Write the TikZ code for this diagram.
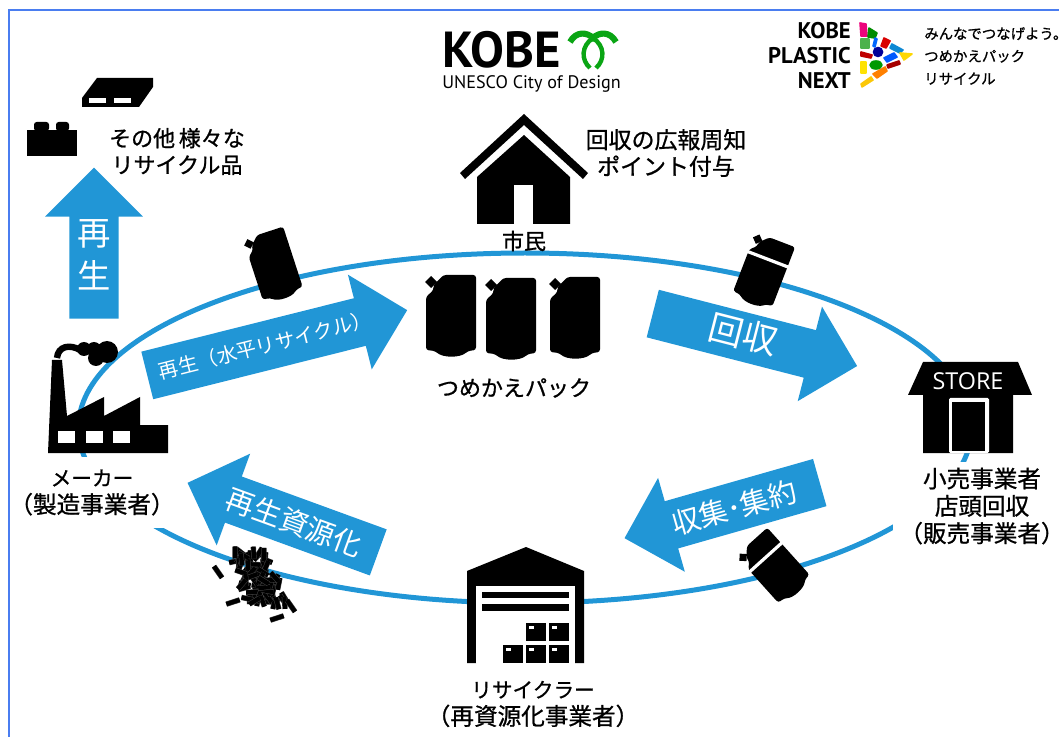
\documentclass[tikz,border=0pt]{standalone}
\usepackage{graphicx}
\usepackage{fontspec}
\usetikzlibrary{shapes}
\usetikzlibrary{shapes.arrows}
\usetikzlibrary{shapes.geometric}
\setmainfont{Noto Sans CJK JP}
\newfontfamily\labelfont[FakeBold=0.9]{Noto Sans CJK JP}
\newfontfamily\logofont{PT Sans}
\newfontfamily\storefont{Open Sans}
\definecolor{flowblue}{RGB}{33,150,214}
\definecolor{frameblue}{RGB}{74,125,240}
\definecolor{kobegreen}{RGB}{10,165,20}
\newcommand{\arrowtext}[1]{\raisebox{-.36em}{#1}}
\newcommand{\backtext}[1]{\raisebox{-.36em}{\rotatebox[origin=c]{180}{#1}}}
\newcommand{\firstline}[1]{{\fontsize{15.5}{20.5}\selectfont #1}}
\newcommand{\pouchshape}{
    \fill[rounded corners=2pt] (-7.5,-38) -- (25,-38) -- (25,37) -- (17,38)
      .. controls (9,45) and (-8,45) .. (-16,38) -- (-25,37) -- (-25,-16)
      -- (-17.5,-23) -- (-17.5,-28) -- cycle;
    \fill (-20,-37) -- (-14,-31) -- (-20,-25) -- (-26,-31) -- cycle;
}
\tikzset{
  x=0.75pt, y=-0.75pt,
  flowarrow/.style={single arrow, fill=flowblue, text=white, anchor=tail,
    inner xsep=0pt, inner ysep=0pt, single arrow head indent=0pt,
    single arrow head extend=18.2pt, minimum width=72.75pt,
    text height=18.2pt, text depth=18.2pt},
  namelabel/.style={font=\labelfont\fontsize{17.7}{20.5}\selectfont, align=center,
    fill=white, inner sep=0pt},
  freelabel/.style={font=\labelfont\fontsize{16.5}{20}\selectfont, align=center,
    inner sep=0pt},
  pellet/.style={draw=darkgray, line width=.4pt, double=black, double distance=3.2pt},
  logopiece/.style={fill=#1, draw=#1, line width=1.2pt, line join=round},
  pics/pouch/.style={code={\pouchshape}},
  pics/bandpouch/.style={code={
    \pouchshape
    \draw[white, line width=2.4pt] (-27,-13) -- (27,-13);
  }}
}

\begin{document}
\begin{tikzpicture}
    \useasboundingbox (0,0) rectangle (1059,737);

    \node[draw=flowblue, line width=3.75pt, ellipse, inner sep=0pt,
          minimum width=670pt, minimum height=262.5pt] (cycleloop) at (525,428) {};

    \node[namelabel, minimum width=97.5pt, minimum height=53pt] (maker) at (92,492.5)
      {\firstline{メーカー}\\（製造事業者）};
    \node[namelabel, minimum width=133pt, minimum height=66pt] (retailer) at (982,506)
      {小売事業者\\店頭回収\\（販売事業者）};
    \node[namelabel] (recycler) at (533,704) {\firstline{リサイクラー}\\（再資源化事業者）};
    \node[freelabel] (citizen) at (524,241) {市民};
    \node[freelabel] (refill) at (514,388) {つめかえパック};
    \node[freelabel] (products) at (177,151.5) {その他\,様々な\\リサイクル品};
    \node[freelabel, font=\labelfont\fontsize{17.2}{20}\selectfont] (publicity) at (666,153)
      {回収の広報周知\\ポイント付与};

    \draw[frameblue, line width=1.6pt] (9,737) -- (9,10) -- (1059,10);

    \node[flowarrow, rotate=90, minimum height=113.25pt, font=\fontsize{25}{30.75}\selectfont]
      (upcycle) at (94,319)
      {\hspace*{-5pt}\raisebox{-6.5pt}{\rotatebox[origin=c]{-90}{\begin{tabular}{@{}c@{}}再\\[1.5pt]生\end{tabular}}}};
    \node[flowarrow, rotate=14.1, minimum height=201pt, font=\fontsize{15}{17}\selectfont]
      (horizontal) at (147,375.5) {\arrowtext{再生（水平リサイクル）}};
    \node[flowarrow, rotate=-14.4, minimum height=158.25pt, font=\fontsize{26}{30}\selectfont]
      (collect) at (652.5,313.5) {\raisebox{1.5pt}{\arrowtext{回収}}};
    \node[flowarrow, rotate=195.9, minimum height=152.25pt, font=\fontsize{21.5}{24}\selectfont]
      (gather) at (820,482.5) {\backtext{収集･集約}};
    \node[flowarrow, rotate=159.95, minimum height=152.25pt, font=\fontsize{21.5}{26}\selectfont]
      (resource) at (378.5,552.5) {\backtext{再生資源化}};

    % refill pouches
    \pic at (451,313) {pouch};
    \pic at (511,316) {pouch};
    \pic at (575,315) {pouch};
    \pic[rotate=18, scale=.84] at (273,263.5) {pouch};
    \pic[rotate=-21, scale=.84] at (764,269.5) {bandpouch};
    \pic[rotate=42, scale=.84] at (773,565.5) {bandpouch};

    % house
    \fill (524,114) -- (588,173) -- (583,179) -- (524,125) -- (465,179) -- (460,173) -- cycle;
    \fill (524,135) -- (570,177) -- (570,224) -- (477,224) -- (477,177) -- cycle;
    \fill[white] (514,185) rectangle (533,224);

    % factory
    \fill (48,453) -- (52,360) -- (62,360) -- (67,416) -- (104,397) -- (104,416)
      -- (140,397) -- (140,425) -- (168,425) -- (168,453) -- cycle;
    \foreach \wx in {58,86,113}
      \fill[white] (\wx,431) rectangle ++(17,12);
    \draw[line width=4.8pt] (57,358) .. controls (58,346) and (70,344) .. (80,350);
    \fill (84,349) circle [radius=7] (96,358) circle [radius=8] (94,349) circle [radius=7]
      (107,352) circle [radius=11];

    % store
    \fill (923,362) -- (1018,362) -- (1032,395) -- (1013,395) -- (1013,453) -- (923,453)
      -- (923,395) -- (908,395) -- cycle;
    \fill[white, rounded corners=1pt] (949,398) rectangle (989,453);
    \fill (952,402) rectangle (985,451);
    \node[text=white, font=\storefont\fontsize{17.5}{20}\selectfont, inner sep=0pt]
      (storesign) at (968,381) {STORE};

    % warehouse
    \fill (526,547) -- (584,571) -- (584,663) -- (575,663) -- (575,586) -- (476,586)
      -- (476,663) -- (467,663) -- (467,571) -- cycle;
    \fill[white] (476,586) rectangle (575,663);
    \fill (482,592) rectangle (569,598);
    \fill (482,604) rectangle (569,611);
    \foreach \bx/\by in {526/623, 549/623, 503/645, 526/645, 549/645} {
      \fill (\bx,\by) rectangle ++(20,18);
      \fill[white] (\bx+3,\by+3) rectangle ++(5,2.5);
    }

    % brick and pallet
    \fill (27,130) rectangle (77,156);
    \fill[rounded corners=2pt] (34,131) -- (34,122) -- (49,122) -- (49,131) -- cycle;
    \fill[rounded corners=2pt] (56,131) -- (56,122) -- (69,122) -- (69,131) -- cycle;
    \fill (97,78) -- (153,78) -- (153,87) -- (139,107) -- (82,107) -- (82,98) -- cycle;
    \fill[white] (89,98) rectangle (106,103);
    \fill[white] (114,98) rectangle (131,103);

    % pellets
    \pgfmathsetseed{7}
    \foreach \i in {1,...,75} {
      \pgfmathsetmacro{\py}{578+27*rand}
      \pgfmathsetmacro{\px}{258+19*rand+.4*(\py-578)}
      \pgfmathsetmacro{\pa}{180*rand}
      \draw[pellet, shift={(\px,\py)}, rotate=\pa] (-6,0) -- (6,0);
    }
    \foreach \px/\py/\pa in {218/572/-55, 233/602/18, 277/618/18, 291/606/-55}
      \draw[pellet, shift={(\px,\py)}, rotate=\pa] (-7,0) -- (7,0);

    % logos
    \node[font=\logofont\bfseries\fontsize{38}{40}\selectfont, inner sep=0pt, anchor=west]
      (kobe) at (442,50) {KOBE};
    \node[font=\logofont\fontsize{13.6}{14}\selectfont, inner sep=0pt, anchor=west]
      (unesco) at (442,84) {UNESCO City of Design};
    \draw[kobegreen, line width=4.6pt]
      (570,42) .. controls (576,31) and (587,32) .. (593,38)
      .. controls (599,32) and (610,31) .. (616,42);
    \draw[kobegreen, line width=3.3pt]
      (593,38) .. controls (581,46) and (581,60) .. (590,68)
      (593,38) .. controls (605,46) and (605,60) .. (596,68);

    \node[font=\logofont\bfseries\fontsize{17}{18.75}\selectfont, align=right, inner sep=0pt,
          anchor=east] (plastic) at (851,55) {KOBE\\PLASTIC\\NEXT};
    \node[font=\labelfont\fontsize{10.8}{16.9}\selectfont, align=left, inner sep=0pt,
          anchor=west] (slogan) at (924,56) {みんなでつなげよう。\\つめかえパック\\リサイクル};
    \path[logopiece=magenta!85!red] (860,23) -- (866,24) -- (867,36) -- (861,36) -- cycle;
    \path[logopiece=green!55!black] (869,28) -- (877,33) -- (875,38) -- (868,37) -- cycle;
    \path[logopiece=green!40!gray] (861,39) rectangle (869,48);
    \path[logopiece=blue!60!cyan] (875,38) -- (877,39) -- (875,47) -- (873,46) -- cycle;
    \path[logopiece=red!85!black] (884,38) -- (890,41) -- (886,48) -- (881,46) -- cycle;
    \path[logopiece=cyan!70!blue] (892,44) -- (903,50) -- (900,53) -- (890,48) -- cycle;
    \path[logopiece=red!75!black] (861,52) -- (872,55) -- (871,58) -- (861,56) -- cycle;
    \path[logopiece=blue!60!black] (878,52) circle [radius=4.5];
    \path[logopiece=blue!65!cyan] (884,58) -- (894,53) -- (897,57) -- (887,62) -- cycle;
    \path[logopiece=yellow!75!orange] (900,53) -- (912,54) -- (904,60) -- cycle;
    \path[logopiece=yellow!85!orange] (861,62) rectangle (866,73);
    \path[logopiece=green!60!black] (876,65) ellipse [x radius=6, y radius=4];
    \path[logopiece=red!65!black] (887,65) -- (899,61) -- (900,64) -- (888,68) -- cycle;
    \path[logopiece=orange] (873,74) -- (885,67) -- (887,71) -- (877,78) -- cycle;
    \path[logopiece=yellow!60!orange] (861,84) -- (871,77) -- (873,80) -- (862,87) -- cycle;
\end{tikzpicture}
\end{document}
